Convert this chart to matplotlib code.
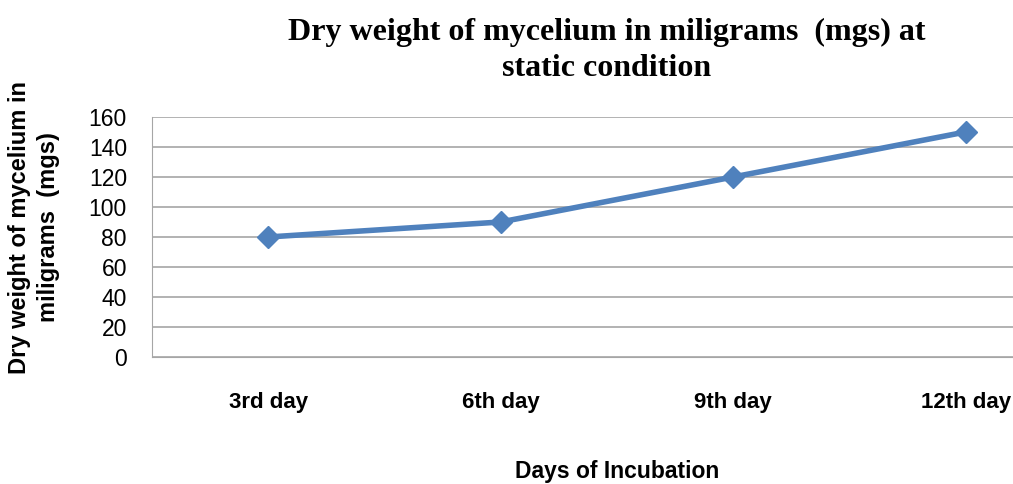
import matplotlib
matplotlib.use('Agg')
import matplotlib.pyplot as plt

# data
days = ['3rd day', '6th day', '9th day', '12th day']
dry_weight = [80, 90, 120, 150]
yticks = [0, 20, 40, 60, 80, 100, 120, 140, 160]

fig = plt.figure(figsize=(10.13, 4.84), dpi=100)
ax = fig.add_axes([0.150, 0.2624, 0.918, 0.4959])

x = list(range(len(days)))
ax.plot(x, dry_weight, color='#4F81BD', linewidth=4, marker='D', markersize=11,
        markeredgecolor='#4F81BD', markerfacecolor='#4F81BD')

ax.set_xlim(-0.5, len(days) - 0.5)
ax.set_ylim(0, 160)
ax.set_yticks(yticks)
ax.set_yticklabels([str(v) for v in yticks], fontsize=16.5, family='Liberation Sans')
ax.set_xticks(x)
ax.set_xticklabels(days, fontsize=16, fontweight='bold', family='Liberation Sans')
ax.tick_params(axis='x', length=0, pad=25)
ax.tick_params(axis='y', length=0, pad=18)
ax.grid(axis='y', color='#A6A6A6', linewidth=1.2)
ax.set_axisbelow(True)
for s in ['top', 'right']:
    ax.spines[s].set_visible(False)
ax.spines['left'].set_color('#A6A6A6')
ax.spines['bottom'].set_color('#A6A6A6')

ax.set_xlabel('Days of Incubation', fontsize=16.5, fontweight='bold',
              family='Liberation Sans', labelpad=34)
ax.set_ylabel('Dry weight of mycelium in\nmiligrams  (mgs)', fontsize=17,
              fontweight='bold', family='Liberation Sans',
              linespacing=1.3)
ax.yaxis.set_label_coords(-0.099, 0.54)

fig.text(0.599, 0.962, 'Dry weight of mycelium in miligrams  (mgs) at\nstatic condition',
         ha='center', va='top', fontsize=23, fontweight='bold',
         family='Liberation Serif', linespacing=1.3)

fig.savefig('out.png', dpi=100)
